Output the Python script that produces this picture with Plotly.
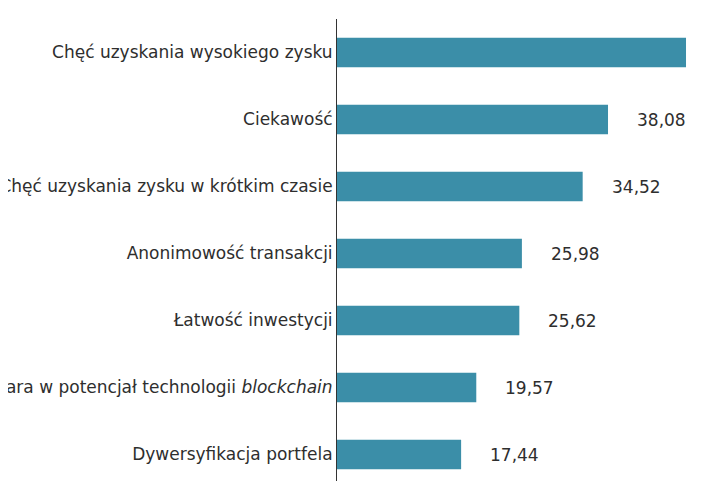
import plotly.graph_objects as go

categories = [
    "Chęć uzyskania wysokiego zysku",
    "Ciekawość",
    "Chęć uzyskania zysku w krótkim czasie",
    "Anonimowość transakcji",
    "Łatwość inwestycji",
    "Wiara w potencjał technologii <i>blockchain</i>",
    "Dywersyfikacja portfela",
]
values = [49.04, 38.08, 34.52, 25.98, 25.62, 19.57, 17.44]
value_labels = ["49,04", "38,08", "34,52", "25,98", "25,62", "19,57", "17,44"]

FONT = "DejaVu Sans"
FS = 17
BAR = "#3b8ea8"
TXT = "#2e2e2e"

fig = go.Figure(
    go.Bar(
        x=values,
        y=categories,
        orientation="h",
        marker=dict(color=BAR, line=dict(width=0)),
        width=0.44,
        hoverinfo="skip",
    )
)

for cat, v, lab in zip(categories, values, value_labels):
    fig.add_annotation(
        x=v, y=cat, text=lab, showarrow=False,
        xanchor="left", yanchor="middle", xshift=27,
        font=dict(family=FONT, size=FS, color=TXT),
    )

fig.update_layout(
    width=720, height=481,
    margin=dict(l=329, r=0, t=11, b=0, autoexpand=False),
    paper_bgcolor="white", plot_bgcolor="white",
    showlegend=False,
    font=dict(family=FONT, size=FS, color=TXT),
    xaxis=dict(range=[0, 54.94], visible=False, fixedrange=True),
    yaxis=dict(
        type="category",
        range=[6.515, -0.5],
        showline=True, linecolor="#333333", linewidth=1,
        showgrid=False, zeroline=False,
        ticks="", ticklabelstandoff=0,
        automargin=False,
        tickfont=dict(family=FONT, size=FS, color=TXT),
    ),
)

fig.write_html("out.html")
